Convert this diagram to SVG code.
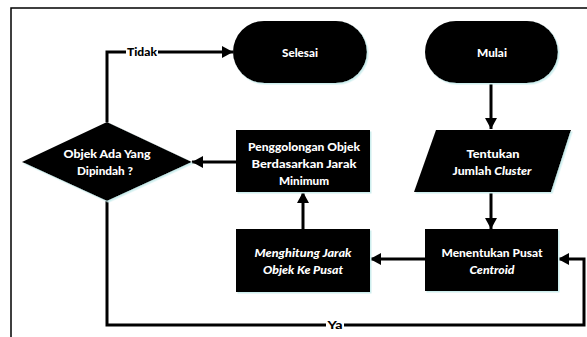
<svg xmlns="http://www.w3.org/2000/svg" width="587" height="337" viewBox="0 0 587 337">
<style>
.shape{fill:#000;filter:url(#sh)}
.t{font-family:Lato,"Liberation Sans",sans-serif;font-weight:900;font-size:11.5px;fill:#fff;text-anchor:middle}
.i{font-style:italic}
.lbl{font-family:Lato,"Liberation Sans",sans-serif;font-weight:900;font-size:11px;fill:#000;text-anchor:middle}
.c{fill:none;stroke:#000;stroke-width:3}
</style>
<defs>
<filter id="sh" x="-10%" y="-10%" width="130%" height="130%">
<feDropShadow dx="1.5" dy="1.5" stdDeviation="0.4" flood-color="#cdeeee"/>
</filter>
<marker id="ah" markerUnits="userSpaceOnUse" markerWidth="11" markerHeight="12" viewBox="0 0 11 12" refX="11" refY="6" orient="auto">
<path d="M0,0 L11,6 L0,12 z" fill="#000"/>
</marker>
</defs>
<rect x="11" y="8" width="600" height="400" fill="none" stroke="#000" stroke-width="1.5"/>
<g id="connectors">
<path class="c" d="M491,83 V129" marker-end="url(#ah)"/>
<path class="c" d="M491,192 V229" marker-end="url(#ah)"/>
<path class="c" d="M425,259 H370" marker-end="url(#ah)"/>
<path class="c" d="M303,229 V192" marker-end="url(#ah)"/>
<path class="c" d="M236,162 H192" marker-end="url(#ah)"/>
<path class="c" d="M107,122 V52 H233" marker-end="url(#ah)"/>
<path class="c" d="M107,201 V325 H584 V259 H558" marker-end="url(#ah)"/>
<rect x="126" y="45" width="32" height="14" fill="#fff"/>
<text class="lbl" x="142" y="56" textLength="30" lengthAdjust="spacingAndGlyphs">Tidak</text>
<rect x="326" y="318" width="18" height="14" fill="#fff"/>
<text class="lbl" x="335" y="329" textLength="15" lengthAdjust="spacingAndGlyphs">Ya</text>
</g>
<g id="selesai">
<rect class="shape" x="233" y="21" width="134" height="62" rx="31" ry="31"/>
<text class="t" x="300" y="57" textLength="36" lengthAdjust="spacingAndGlyphs">Selesai</text>
</g>
<g id="mulai">
<rect class="shape" x="425" y="21" width="133" height="62" rx="31" ry="31"/>
<text class="t" x="492" y="57" textLength="30" lengthAdjust="spacingAndGlyphs">Mulai</text>
</g>
<g id="tentukan">
<polygon class="shape" points="436,130 571,130 551,192 414,192"/>
<text class="t" x="493" y="158" textLength="53" lengthAdjust="spacingAndGlyphs">Tentukan</text>
<text class="t" x="492" y="175" textLength="79" lengthAdjust="spacingAndGlyphs">Jumlah <tspan class="i">Cluster</tspan></text>
</g>
<g id="menentukan">
<rect class="shape" x="425" y="229" width="133" height="62"/>
<text class="t" x="492" y="257" textLength="101" lengthAdjust="spacingAndGlyphs">Menentukan Pusat</text>
<text class="t i" x="492" y="274" textLength="45" lengthAdjust="spacingAndGlyphs">Centroid</text>
</g>
<g id="menghitung">
<rect class="shape" x="236" y="229" width="134" height="63"/>
<text class="t i" x="303" y="257" textLength="97" lengthAdjust="spacingAndGlyphs">Menghitung Jarak</text>
<text class="t i" x="303" y="274" textLength="80" lengthAdjust="spacingAndGlyphs">Objek Ke Pusat</text>
</g>
<g id="penggolongan">
<rect class="shape" x="236" y="130" width="134" height="62"/>
<text class="t" x="304" y="151" textLength="112" lengthAdjust="spacingAndGlyphs">Penggolongan Objek</text>
<text class="t" x="304" y="168" textLength="105" lengthAdjust="spacingAndGlyphs">Berdasarkan Jarak</text>
<text class="t" x="304" y="185" textLength="50" lengthAdjust="spacingAndGlyphs">Minimum</text>
</g>
<g id="keputusan">
<polygon class="shape" points="22,162 107,122 192,162 107,201"/>
<text class="t" x="107" y="158" textLength="87" lengthAdjust="spacingAndGlyphs">Objek Ada Yang</text>
<text class="t" x="105" y="175" textLength="56" lengthAdjust="spacingAndGlyphs">Dipindah ?</text>
</g>
</svg>
